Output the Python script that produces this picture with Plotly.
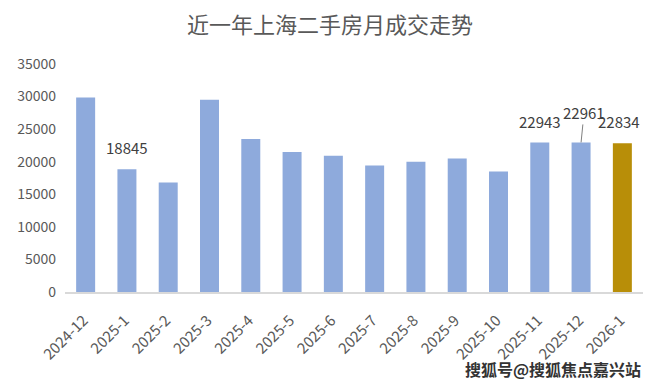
import plotly.graph_objects as go

months = ["2024-12", "2025-1", "2025-2", "2025-3", "2025-4", "2025-5", "2025-6",
          "2025-7", "2025-8", "2025-9", "2025-10", "2025-11", "2025-12", "2026-1"]
volumes = [29850, 18845, 16800, 29500, 23500, 21500, 20900,
           19400, 20000, 20500, 18500, 22943, 22961, 22834]
labelled = ["2025-1", "2025-11", "2025-12", "2026-1"]
y_ticks = [0, 5000, 10000, 15000, 20000, 25000, 30000, 35000]

FONT = "Noto Sans CJK SC, Noto Sans, sans-serif"
BLUE = "#8eaadc"
GOLD = "#b88e08"
colors = [GOLD if m == "2026-1" else BLUE for m in months]

fig = go.Figure()
fig.add_trace(go.Bar(
    x=months, y=volumes, marker=dict(color=colors, line=dict(width=0)),
    width=0.46, showlegend=False, hoverinfo="x+y",
))

for m in labelled:
    v = volumes[months.index(m)]
    if m == "2025-12":
        fig.add_annotation(x=m, y=v, text=str(v), showarrow=True, arrowhead=0,
                           arrowwidth=1, arrowcolor="#7f7f7f", ax=3, ay=-30,
                           font=dict(family=FONT, size=15, color="#404040"))
    else:
        xs = -3 if m == "2026-1" else 0
        fig.add_annotation(x=m, y=v, text=str(v), showarrow=False, yanchor="bottom",
                           yshift=9, xshift=xs,
                           font=dict(family=FONT, size=15, color="#404040"))

fig.add_annotation(xref="paper", yref="paper", x=1.0, y=-0.338, xanchor="right",
                   yanchor="middle", showarrow=False, text="<b>搜狐号@搜狐焦点嘉兴站</b>",
                   font=dict(family=FONT, size=16, color="#333333"))

fig.update_layout(
    width=660, height=384,
    margin=dict(l=65, r=17, t=64, b=92),
    paper_bgcolor="white", plot_bgcolor="white",
    title=dict(text="近一年上海二手房月成交走势", x=0.5, xanchor="center",
               y=0.935, yanchor="middle", xref="container",
               font=dict(family=FONT, size=22, color="#595959")),
    xaxis=dict(type="category", tickangle=-45, showline=True, linecolor="#d9d9d9",
               linewidth=1.5, ticks="", showgrid=False, ticklabelstandoff=12,
               ticklabelshift=-2,
               tickfont=dict(family=FONT, size=15, color="#595959")),
    yaxis=dict(range=[0, 35000], tickvals=y_ticks, tickformat="d", showgrid=False,
               zeroline=False, showline=False, ticks="", ticklabelstandoff=8,
               tickfont=dict(family=FONT, size=14, color="#595959")),
)

fig.write_html("out.html", config={"displayModeBar": False},
               post_script="document.body.style.margin='0';document.body.style.overflow='hidden';")
